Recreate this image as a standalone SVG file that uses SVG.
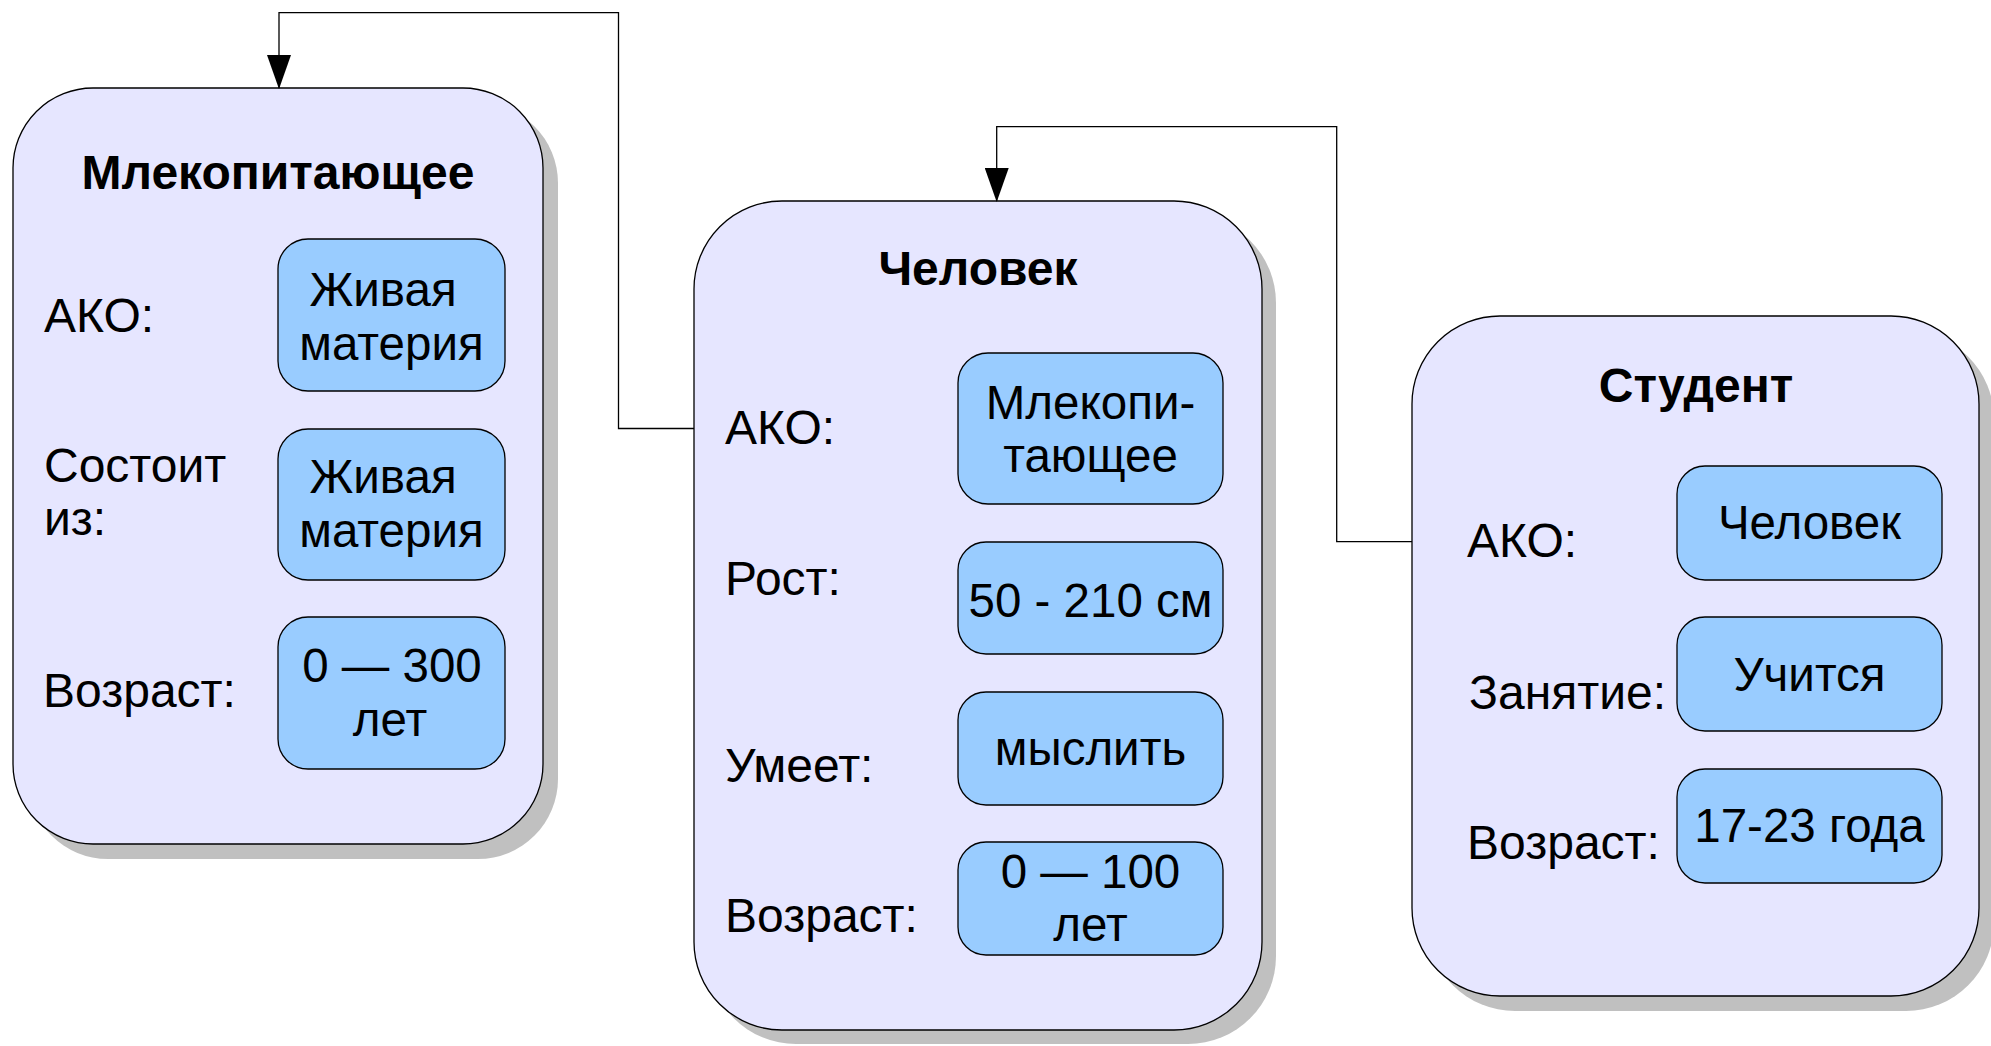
<svg xmlns="http://www.w3.org/2000/svg" width="1991" height="1046" viewBox="0 0 1991 1046">
<style>
.shadow{fill:#c0c0c0;stroke:none}
.frame{fill:#e6e6ff;stroke:#000;stroke-width:1.3}
.slot{fill:#99ccff;stroke:#000;stroke-width:1.3}
.title{font-family:"Liberation Sans",Arial,sans-serif;font-weight:bold;font-size:48px;fill:#000;text-anchor:middle}
.lbl{font-family:"Liberation Sans",Arial,sans-serif;font-size:48px;fill:#000}
.val{font-family:"Liberation Sans",Arial,sans-serif;font-size:47.5px;fill:#000;text-anchor:middle}
.conn{fill:none;stroke:#000;stroke-width:1.3}
</style>
<defs>
<marker id="arr" markerUnits="userSpaceOnUse" markerWidth="34" markerHeight="24" viewBox="0 0 34 24" refX="33" refY="12" orient="auto">
<path d="M0,0 L34,12 L0,24 Z" fill="#000"/>
</marker>
</defs>
<rect width="1991" height="1046" fill="#fff"/>

<g id="node-mammal">
<rect class="shadow" x="28" y="103" width="530" height="756" rx="80" ry="80"/>
<rect class="frame" x="13" y="88" width="530" height="756" rx="80" ry="80"/>
<text class="title" x="278" y="189">Млекопитающее</text>
<text class="lbl" x="44" y="332">АКО:</text>
<rect class="slot" x="278" y="239" width="227" height="152" rx="30" ry="30"/>
<text class="val" x="383" y="306">Живая</text>
<text class="val" x="391.5" y="360">материя</text>
<text class="lbl" x="44" y="482">Состоит</text>
<text class="lbl" x="44" y="535">из:</text>
<rect class="slot" x="278" y="429" width="227" height="151" rx="30" ry="30"/>
<text class="val" x="383" y="493">Живая</text>
<text class="val" x="391.5" y="547">материя</text>
<text class="lbl" x="43" y="707">Возраст:</text>
<rect class="slot" x="278" y="617" width="227" height="152" rx="30" ry="30"/>
<text class="val" x="392" y="682">0 — 300</text>
<text class="val" x="390" y="736">лет</text>
</g>

<g id="node-human">
<rect class="shadow" x="708" y="215" width="568" height="829" rx="88" ry="88"/>
<rect class="frame" x="694" y="201" width="568" height="829" rx="88" ry="88"/>
<text class="title" x="978" y="285">Человек</text>
<text class="lbl" x="725" y="444">АКО:</text>
<rect class="slot" x="958" y="353" width="265" height="151" rx="30" ry="30"/>
<text class="val" x="1090.5" y="419">Млекопи-</text>
<text class="val" x="1090.5" y="472">тающее</text>
<text class="lbl" x="725" y="595">Рост:</text>
<rect class="slot" x="958" y="542" width="265" height="112" rx="28" ry="28"/>
<text class="val" x="1090.5" y="617">50 - 210 см</text>
<text class="lbl" x="725" y="782">Умеет:</text>
<rect class="slot" x="958" y="692" width="265" height="113" rx="28" ry="28"/>
<text class="val" x="1090.5" y="765">мыслить</text>
<text class="lbl" x="725" y="932">Возраст:</text>
<rect class="slot" x="958" y="842" width="265" height="113" rx="28" ry="28"/>
<text class="val" x="1090.5" y="888">0 — 100</text>
<text class="val" x="1090.5" y="941">лет</text>
</g>

<g id="node-student">
<rect class="shadow" x="1427" y="331" width="567" height="680" rx="88" ry="88"/>
<rect class="frame" x="1412" y="316" width="567" height="680" rx="88" ry="88"/>
<text class="title" x="1696" y="402">Студент</text>
<text class="lbl" x="1467" y="557">АКО:</text>
<rect class="slot" x="1677" y="466" width="265" height="114" rx="28" ry="28"/>
<text class="val" x="1809.5" y="539">Человек</text>
<text class="lbl" x="1469" y="709">Занятие:</text>
<rect class="slot" x="1677" y="617" width="265" height="114" rx="28" ry="28"/>
<text class="val" x="1809.5" y="691">Учится</text>
<text class="lbl" x="1467" y="859">Возраст:</text>
<rect class="slot" x="1677" y="769" width="265" height="114" rx="28" ry="28"/>
<text class="val" x="1809.5" y="842">17-23 года</text>
</g>

<g id="connectors">
<path class="conn" d="M694,428.5 H618.5 V12.7 H279 V88" marker-end="url(#arr)"/>
<path class="conn" d="M1412,541.7 H1336.7 V126.7 H996.7 V201" marker-end="url(#arr)"/>
</g>
</svg>
